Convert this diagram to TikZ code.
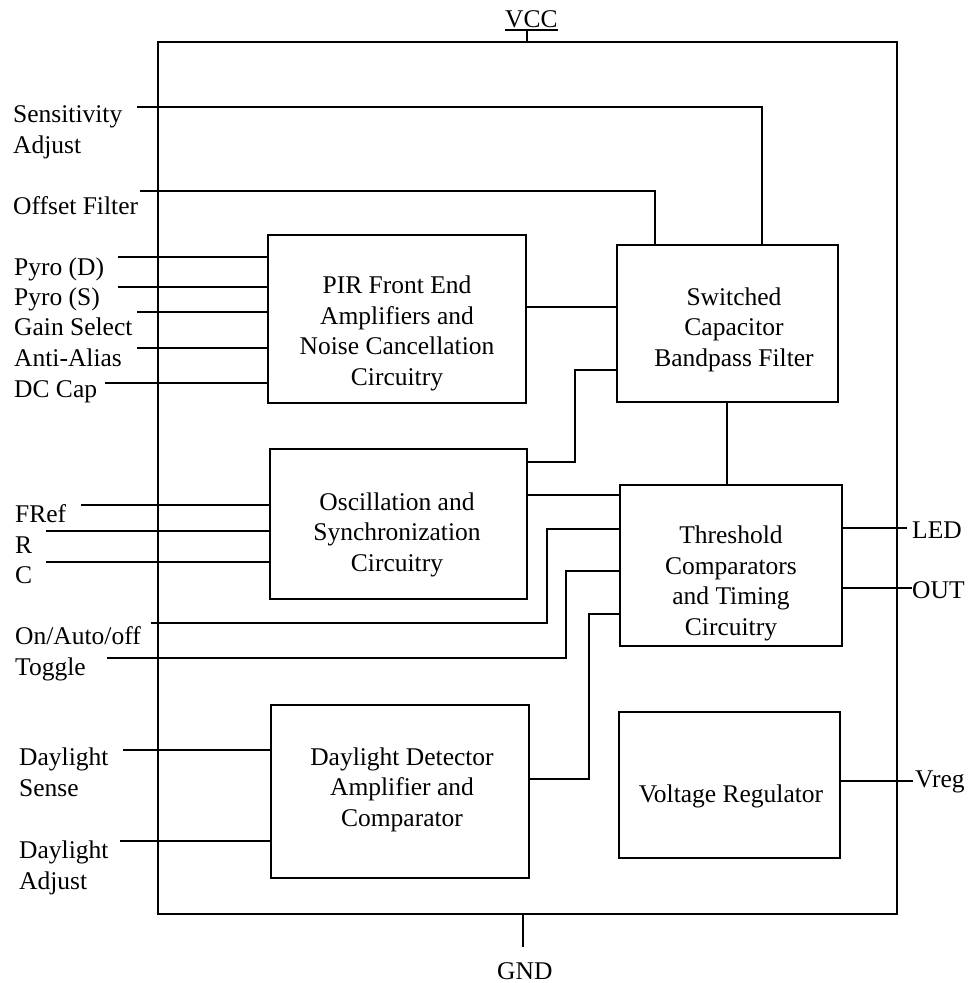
\documentclass[tikz,border=0pt]{standalone}
\usepackage{fontspec}
\setmainfont{Liberation Serif}
\begin{document}
\begin{tikzpicture}[x=1pt,y=-1pt,
  wire/.style={line width=2.8pt},
  blk/.style={draw, line width=2.8pt, rectangle, inner sep=0pt},
  lbl/.style={font=\fontsize{25.5}{30.5}\selectfont, inner sep=0pt, align=left, anchor=base west},
  btxt/.style={font=\fontsize{25.5}{30.5}\selectfont, inner sep=0pt, align=center, anchor=base}]
\useasboundingbox (0,0) rectangle (969,983);

% outer chip
\node[blk, minimum width=739pt, minimum height=872pt] (chip) at (527.5,478) {};

% blocks
\node[blk, minimum width=258pt, minimum height=168pt] (pir) at (397,319) {};
\node[blk, minimum width=221pt, minimum height=157pt] (sc)  at (727.5,323.5) {};
\node[blk, minimum width=257pt, minimum height=150pt] (osc) at (398.5,524) {};
\node[blk, minimum width=222pt, minimum height=161pt] (thr) at (731,565.5) {};
\node[blk, minimum width=258pt, minimum height=173pt] (day) at (400,791.5) {};
\node[blk, minimum width=221pt, minimum height=146pt] (vr)  at (729.5,785) {};

% block texts (anchor = baseline of last line)
\node[btxt] (pirT) at (397,385) {PIR Front End\\Amplifiers and\\Noise Cancellation\\Circuitry};
\node[btxt] (scT)  at (734,366) {Switched\\Capacitor\\Bandpass Filter};
\node[btxt] (oscT) at (397,571) {Oscillation and\\Synchronization\\Circuitry};
\node[btxt] (thrT) at (731,635) {Threshold\\Comparators\\and Timing\\Circuitry};
\node[btxt] (dayT) at (402,826) {Daylight Detector\\Amplifier and\\Comparator};
\node[btxt] (vrT)  at (731,802) {Voltage Regulator};

% external labels
\node[lbl] (vcc) at (505,27) {VCC};
\draw[line width=1.6pt] ([yshift=-3pt]vcc.base west) -- ([yshift=-3pt]vcc.base east);
\coordinate (vccA) at (527,30);
\draw[wire] (vccA) -- (chip.north -| vccA);

\node[lbl] (gnd) at (497,979) {GND};
\coordinate (gndA) at (523,947);
\draw[wire] (chip.south -| gndA) -- (gndA);

\node[lbl] (sensL) at (13,153) {Sensitivity\\Adjust};
\node[lbl] (offL)  at (13,214) {Offset Filter};
\node[lbl] (pdL)   at (14,275) {Pyro (D)};
\node[lbl] (psL)   at (14,305) {Pyro (S)};
\node[lbl] (gsL)   at (14,335) {Gain Select};
\node[lbl] (aaL)   at (14,366) {Anti-Alias};
\node[lbl] (dcL)   at (14,397) {DC Cap};
\node[lbl] (frL)   at (15,522) {FRef};
\node[lbl] (rL)    at (15,553) {R};
\node[lbl] (cL)    at (15,583) {C};
\node[lbl] (oaL)   at (15,644) {On/Auto/off};
\node[lbl] (tgL)   at (15,675) {Toggle};
\node[lbl] (dsL)   at (19,796) {Daylight\\Sense};
\node[lbl] (daL)   at (19,889) {Daylight\\Adjust};
\node[lbl] (ledL)  at (912,538) {LED};
\node[lbl] (outL)  at (912,598) {OUT};
\node[lbl] (vregL) at (915,787) {Vreg};

% free wire ends
\coordinate (sensA) at (137,107); \coordinate (sensB) at (762,107);
\coordinate (offA)  at (140,191); \coordinate (offB)  at (655,191);
\coordinate (pdA)   at (118,257);
\coordinate (psA)   at (118,287);
\coordinate (gsA)   at (137,312);
\coordinate (aaA)   at (137,348);
\coordinate (dcA)   at (105,383);
\coordinate (frA)   at (81,505);
\coordinate (rA)    at (46,531);
\coordinate (cA)    at (46,562);
\coordinate (oaA)   at (151,623); \coordinate (oaB) at (547,623); \coordinate (oaC) at (547,529);
\coordinate (tgA)   at (107,658); \coordinate (tgB) at (566,658); \coordinate (tgC) at (566,571);
\coordinate (dsA)   at (123,750);
\coordinate (daA)   at (120,841);
\coordinate (ledA)  at (907,528);
\coordinate (outA)  at (912,588);
\coordinate (vregA) at (913,781);
\coordinate (os1)   at (575,462); \coordinate (os2) at (575,370);
\coordinate (ot1)   at (0,495);
\coordinate (ps1)   at (0,307);
\coordinate (dt1)   at (589,779); \coordinate (dt2) at (589,614);
\coordinate (st1)   at (727,0);

% wires
\draw[wire] (sensA) -- (sensB) -- (sc.north -| sensB);
\draw[wire] (offA) -- (offB) -- (sc.north -| offB);
\draw[wire] (pdA) -- (pdA -| pir.west);
\draw[wire] (psA) -- (psA -| pir.west);
\draw[wire] (gsA) -- (gsA -| pir.west);
\draw[wire] (aaA) -- (aaA -| pir.west);
\draw[wire] (dcA) -- (dcA -| pir.west);
\draw[wire] (pir.east |- ps1) -- (sc.west |- ps1);
\draw[wire] (osc.east |- os1) -- (os1) -- (os2) -- (sc.west |- os2);
\draw[wire] (osc.east |- ot1) -- (thr.west |- ot1);
\draw[wire] (sc.south -| st1) -- (thr.north -| st1);
\draw[wire] (frA) -- (frA -| osc.west);
\draw[wire] (rA) -- (rA -| osc.west);
\draw[wire] (cA) -- (cA -| osc.west);
\draw[wire] (oaA) -- (oaB) -- (oaC) -- (thr.west |- oaC);
\draw[wire] (tgA) -- (tgB) -- (tgC) -- (thr.west |- tgC);
\draw[wire] (day.east |- dt1) -- (dt1) -- (dt2) -- (thr.west |- dt2);
\draw[wire] (dsA) -- (dsA -| day.west);
\draw[wire] (daA) -- (daA -| day.west);
\draw[wire] (thr.east |- ledA) -- (ledA);
\draw[wire] (thr.east |- outA) -- (outA);
\draw[wire] (vr.east |- vregA) -- (vregA);
\end{tikzpicture}
\end{document}
